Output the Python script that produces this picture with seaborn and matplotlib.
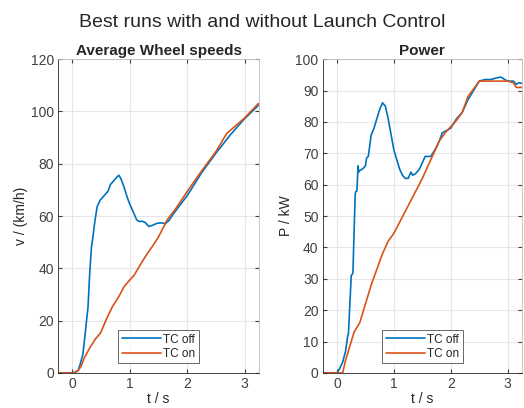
import numpy as np
import pandas as pd
import matplotlib
matplotlib.use("Agg")
import matplotlib.pyplot as plt
import seaborn as sns

# ---- data ----
# average wheel speed, TC off
t_v_off = [-0.25, 0.0, 0.05, 0.1, 0.14, 0.18, 0.21, 0.24, 0.27, 0.3, 0.33, 0.35, 0.39, 0.43, 0.48, 0.52,
           0.58, 0.62, 0.66, 0.72, 0.78, 0.81, 0.85, 0.9, 0.95, 1.0, 1.07, 1.12, 1.16, 1.22, 1.27,
           1.33, 1.4, 1.47, 1.55, 1.62, 1.68, 1.75, 1.85, 2.0, 2.25, 2.5, 2.75, 3.0, 3.25]
v_off = [0, 0, 0.3, 1, 3.8, 7, 12.7, 19, 25, 38, 48, 51, 58, 63.6, 66, 67,
         68.5, 69.5, 72, 73.5, 75, 75.6, 74, 71, 67.4, 64.5, 61, 58.5, 57.9, 58, 57.5,
         56, 56.5, 57.2, 57.4, 57.1, 58.2, 60.5, 63.5, 67.8, 76.5, 84, 91, 97.2, 102.5]

# average wheel speed, TC on
t_v_on = [-0.25, 0.0, 0.05, 0.1, 0.15, 0.2, 0.3, 0.4, 0.49, 0.6, 0.7, 0.81, 0.9, 1.0, 1.07, 1.13,
          1.2, 1.3, 1.39, 1.5, 1.65, 1.8, 2.02, 2.25, 2.5, 2.69, 3.0, 3.24]
v_on = [0, 0, 0.2, 1, 2.5, 5.5, 9.5, 13, 15.3, 21, 25.5, 29.3, 33, 35.6, 37.2, 39.4,
        42, 45.5, 48.3, 52, 58.5, 62.8, 70, 77.2, 84.6, 91.6, 97.5, 103]

# power, TC off
t_p_off = [-0.25, 0.0, 0.05, 0.1, 0.15, 0.19, 0.2, 0.25, 0.27, 0.28, 0.3, 0.32, 0.33, 0.35, 0.37,
           0.38, 0.4, 0.45, 0.5, 0.52, 0.55, 0.6, 0.65, 0.7, 0.75, 0.8, 0.85, 0.9, 0.95,
           1.0, 1.05, 1.1, 1.15, 1.2, 1.25, 1.3, 1.33, 1.38, 1.45, 1.5, 1.55, 1.6, 1.65,
           1.7, 1.75, 1.8, 1.85, 1.9, 2.0, 2.1, 2.2, 2.3, 2.4, 2.5, 2.6, 2.7, 2.8,
           2.88, 2.95, 3.0, 3.1, 3.15, 3.2, 3.25]
p_off = [0, 0, 1.5, 3.5, 6.9, 12, 12.2, 31, 31.5, 32, 45, 57, 57.8, 58, 66,
         64, 64.5, 65, 66, 68.5, 69, 75.8, 78, 81, 84, 86.1, 85, 81, 76,
         71, 68, 65, 63, 62, 62, 64, 63, 63.5, 65, 67, 69, 69, 69,
         70.5, 72, 74, 76.5, 77, 78, 81, 83, 87, 90, 93, 93.5, 93.5, 94,
         94.3, 93.5, 93, 93, 92, 92.5, 92.3]

# power, TC on
t_p_on = [-0.25, 0.0, 0.1, 0.15, 0.2, 0.25, 0.3, 0.4, 0.5, 0.6, 0.7, 0.8, 0.9, 1.0, 1.1,
          1.2, 1.3, 1.4, 1.5, 1.6, 1.7, 1.8, 1.9, 2.0, 2.1, 2.2, 2.3, 2.4, 2.5, 2.6,
          2.7, 2.8, 2.9, 3.0, 3.1, 3.15, 3.25]
p_on = [0, 0, 0, 4, 7, 10, 13, 16, 22, 28, 33, 38, 42, 44.5, 48,
        51.5, 55, 58.5, 62, 66, 70, 74, 76.5, 78.5, 80.5, 83, 88, 90.5, 93, 93,
        93, 93, 93, 93, 92.5, 91, 91]

labels = ["TC off", "TC on"]
c_off = "#0072BD"
c_on = "#D95319"

sns.set_style("whitegrid")
plt.rcParams["font.family"] = ["Liberation Sans", "DejaVu Sans"]

fig = plt.figure(figsize=(5.24, 4.08), dpi=100)
ax1 = fig.add_axes([0.111, 0.086, 0.383, 0.769])
ax2 = fig.add_axes([0.616, 0.086, 0.380, 0.769])

sns.lineplot(x=t_v_off, y=v_off, ax=ax1, color=c_off, lw=1.2, label=labels[0])
sns.lineplot(x=t_v_on, y=v_on, ax=ax1, color=c_on, lw=1.2, label=labels[1])
sns.lineplot(x=t_p_off, y=p_off, ax=ax2, color=c_off, lw=1.2, label=labels[0])
sns.lineplot(x=t_p_on, y=p_on, ax=ax2, color=c_on, lw=1.2, label=labels[1])

for ax, ymax, step, title, ylab in [(ax1, 120, 20, "Average Wheel speeds", "v / (km/h)"),
                                    (ax2, 100, 10, "Power", "P / kW")]:
    ax.set_xlim(-0.25, 3.25)
    ax.set_ylim(0, ymax)
    ax.set_xticks([0, 1, 2, 3])
    ax.set_yticks(np.arange(0, ymax + 1, step))
    ax.grid(True, color="#e6e6e6", lw=0.8)
    for s in ax.spines.values():
        s.set_visible(True)
        s.set_color("#262626")
        s.set_linewidth(0.6)
    ax.spines["top"].set_color("#bbbbbb")
    ax.spines["right"].set_color("#bbbbbb")
    ax.tick_params(direction="in", length=3, labelsize=10, colors="#404040", pad=3,
                   top=True, right=True, bottom=True, left=True)
    ax.set_title(title, fontsize=11, fontweight="bold", pad=3)
    ax.set_xlabel("t / s", fontsize=10, color="#262626", labelpad=1)
    ax.set_ylabel(ylab, fontsize=10, color="#262626", labelpad=2)
    leg = ax.legend(loc="lower center", bbox_to_anchor=(0.5, 0.03), fontsize=8.5,
                    frameon=True, fancybox=False, handlelength=3.3, borderpad=0.3,
                    labelspacing=0.2, handletextpad=0.2, borderaxespad=0.0)
    leg.get_frame().set_edgecolor("#262626")
    leg.get_frame().set_linewidth(0.6)

fig.suptitle("Best runs with and without Launch Control", fontsize=14, y=0.965)

fig.savefig("out.png", dpi=100)
